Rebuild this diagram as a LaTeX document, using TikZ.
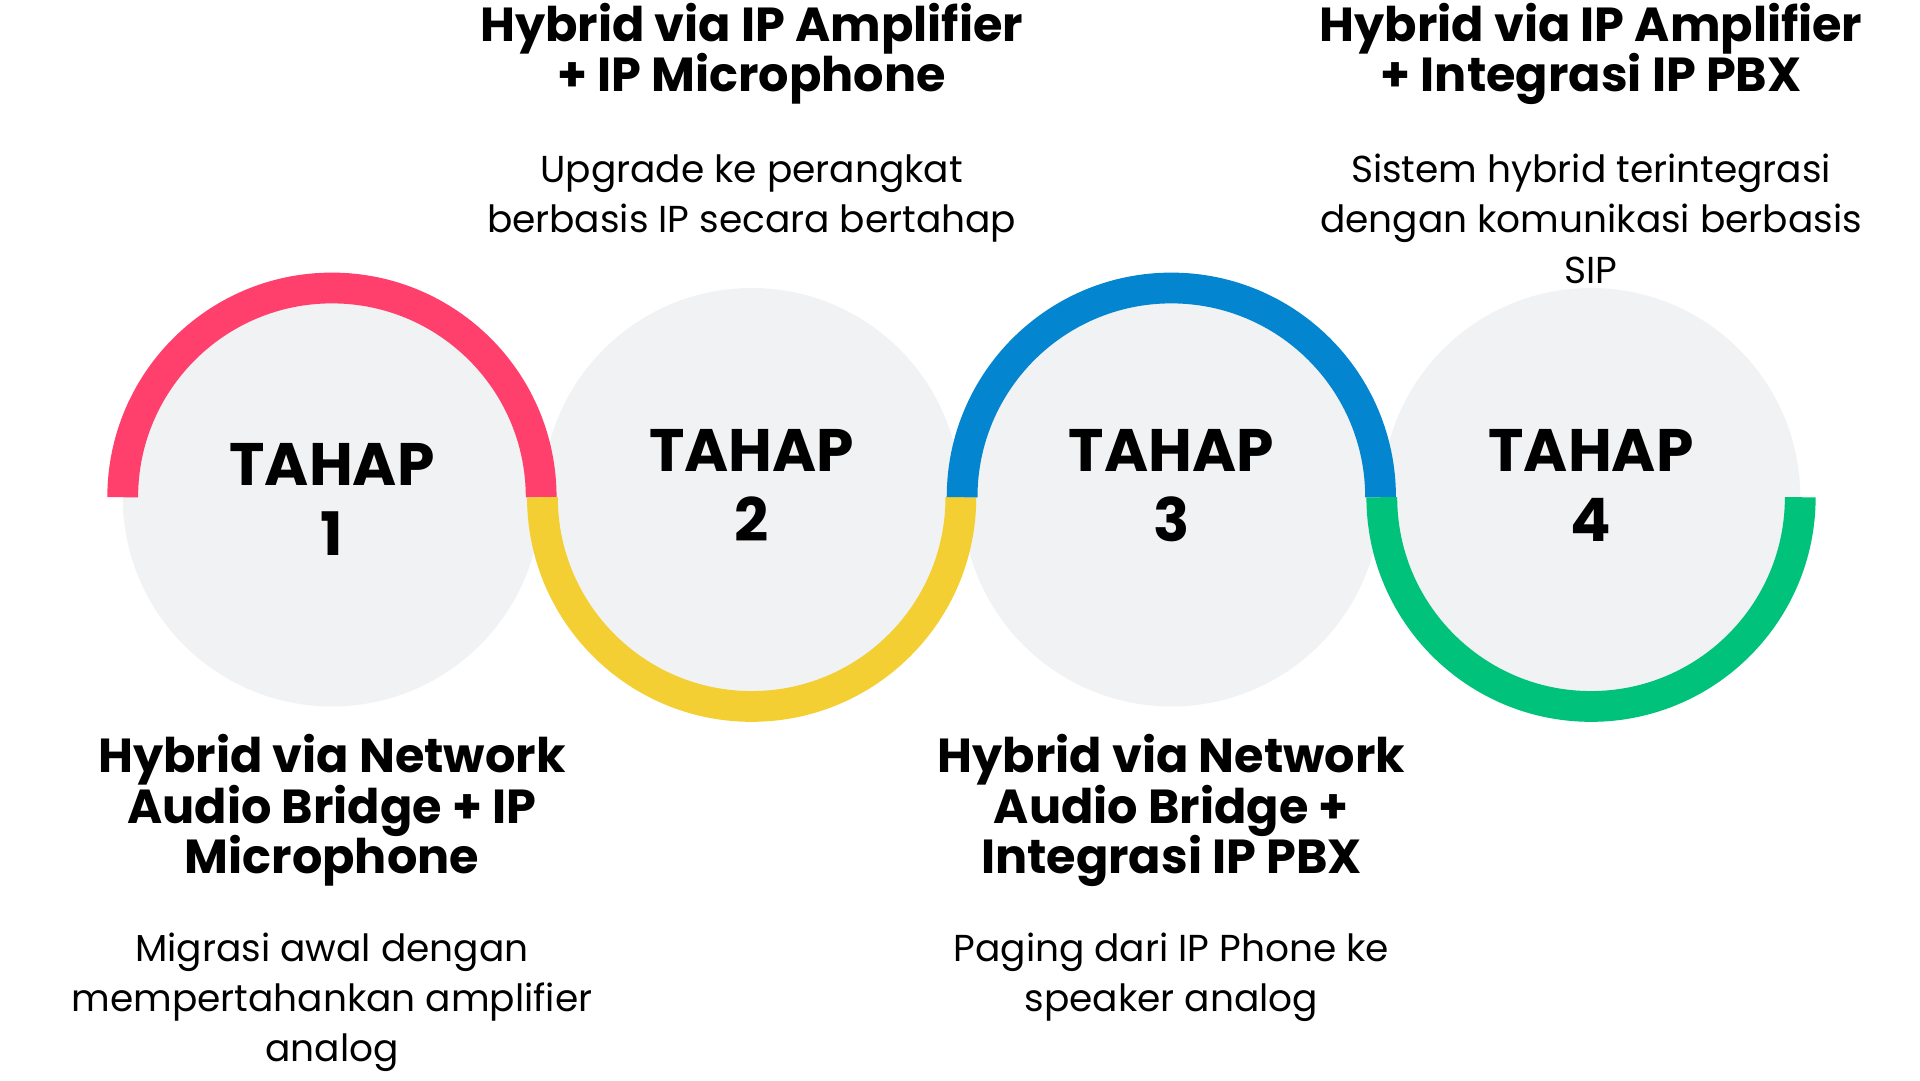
\documentclass[tikz,border=0pt]{standalone}
\usepackage{fontspec}
\setmainfont{Poppins}
\lineskiplimit=-100pt
\tikzstyle{every picture}=[line cap=butt]
\definecolor{stagegray}{HTML}{F1F2F4}
\definecolor{stagered}{HTML}{FF3F6C}
\definecolor{stageyellow}{HTML}{F4CF33}
\definecolor{stageblue}{HTML}{0385D0}
\definecolor{stagegreen}{HTML}{00C27A}
\tikzset{
  stage/.style={circle,fill=stagegray,minimum size=3.40cm,inner sep=0pt,outer sep=0pt},
  stagelabel/.style={align=center,anchor=base,inner sep=0pt,font=\fontsize{13.86}{16.1}\selectfont\bfseries},
  title/.style={align=center,anchor=base,inner sep=0pt,font=\fontsize{11.04}{11.6}\selectfont\bfseries},
  desc/.style={align=center,anchor=base,inner sep=0pt,font=\fontsize{8.67}{11.6}\selectfont},
  ring/.style={line width=0.25cm}
}

\begin{document}
\begin{tikzpicture}
            \useasboundingbox (0,0) rectangle (15.6,8.775);

            \node[stage] (c1) at (2.697,4.735) {};
            \node[stage] (c2) at (6.107,4.735) {};
            \node[stage] (c3) at (9.517,4.735) {};
            \node[stage] (c4) at (12.927,4.735) {};

            \draw[ring,stagered] (c1.west) arc (180:0:1.70);
            \draw[ring,stageyellow] (c2.west) arc (180:360:1.70);
            \draw[ring,stageblue] (c3.west) arc (180:0:1.70);
            \draw[ring,stagegreen] (c4.west) arc (180:360:1.70);

            % base anchor sits on the last line
            \node[stagelabel] (s1) at (2.697,4.265) {TAHAP\\1};
            \node[stagelabel] (s2) at (6.107,4.375) {TAHAP\\2};
            \node[stagelabel] (s3) at (9.517,4.375) {TAHAP\\3};
            \node[stagelabel] (s4) at (12.927,4.375) {TAHAP\\4};

            \node[title] (t2) at (6.107,8.029) {Hybrid via IP Amplifier\\+ IP Microphone};
            \node[desc] (d2) at (6.107,6.885) {Upgrade ke perangkat\\berbasis IP secara bertahap};
            \node[title] (t4) at (12.927,8.029) {Hybrid via IP Amplifier\\+ Integrasi IP PBX};
            \node[desc] (d4) at (12.927,6.475) {Sistem hybrid terintegrasi\\dengan komunikasi berbasis\\SIP};

            \node[title] (t1) at (2.697,1.68) {Hybrid via Network\\Audio Bridge + IP\\Microphone};
            \node[desc] (d1) at (2.697,0.148) {Migrasi awal dengan\\mempertahankan amplifier\\analog};
            \node[title] (t3) at (9.517,1.68) {Hybrid via Network\\Audio Bridge +\\Integrasi IP PBX};
            \node[desc] (d3) at (9.517,0.555) {Paging dari IP Phone ke\\speaker analog};
        \end{tikzpicture}
\end{document}
